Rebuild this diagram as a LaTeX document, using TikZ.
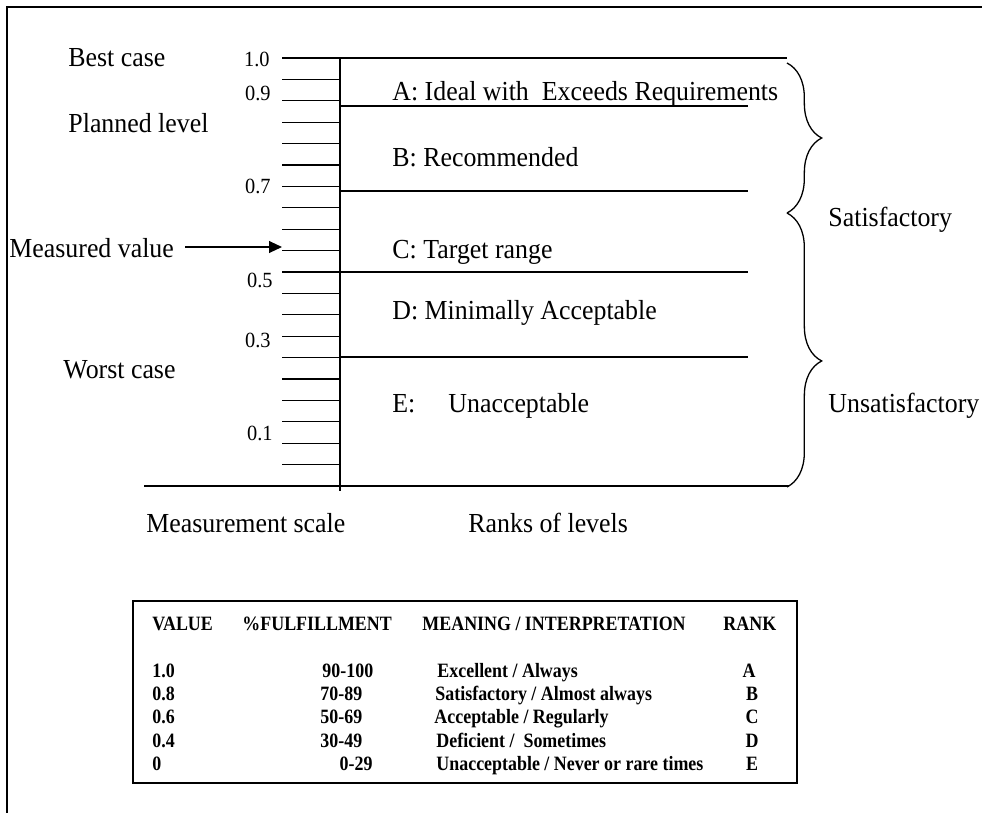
\documentclass[tikz,border=0pt]{standalone}
\usepackage{fontspec}
\setmainfont{Liberation Serif}[FakeStretch=0.94]
\newfontfamily\tabfont{Liberation Serif}[FakeStretch=0.88]
\usetikzlibrary{arrows.meta,decorations.pathreplacing}

\begin{document}
\begin{tikzpicture}[x=0.4615pt, y=-0.4615pt, font=\fontsize{12.7}{14}\selectfont]

    \useasboundingbox (0,0) rectangle (982,813);

    \draw[line width=0.8pt] (982,7) -- (7,7) -- (7,813); %frame

    \begin{scope} %scale
        \begin{scope}[every path/.style={line width=0.6pt}]
            \draw (282,58) -- (787,58);
            \draw (282,79.4) -- (340,79.4);
            \draw (282,100.8) -- (340,100.8);
            \draw (282,122.2) -- (340,122.2);
            \draw (282,143.6) -- (340,143.6);
            \draw (282,165) -- (340,165);
            \draw (282,186.4) -- (340,186.4);
            \draw (282,207.8) -- (340,207.8);
            \draw (282,229.2) -- (340,229.2);
            \draw (282,250.6) -- (340,250.6);
            \draw (282,272) -- (340,272);
            \draw (282,293.4) -- (340,293.4);
            \draw (282,314.8) -- (340,314.8);
            \draw (282,336.2) -- (340,336.2);
            \draw (282,357.6) -- (340,357.6);
            \draw (282,379) -- (340,379);
            \draw (282,400.4) -- (340,400.4);
            \draw (282,421.8) -- (340,421.8);
            \draw (282,443.2) -- (340,443.2);
            \draw (282,464.6) -- (340,464.6);
            \draw (144,486) -- (789,486);
            \draw (340,58) -- (340,491);
            % ranks
            \draw (340,106) -- (748,106);
            \draw (340,191) -- (748,191);
            \draw (340,272) -- (748,272);
            \draw (340,357) -- (748,357);
        \end{scope}
        \begin{scope}[every node/.style={anchor=base east, inner sep=0pt, font=\fontsize{10}{11}\selectfont}]
            \node (v10) at (270,66) {1.0};
            \node (v09) at (271,100) {0.9};
            \node (v07) at (271,193) {0.7};
            \node (v05) at (273,287) {0.5};
            \node (v03) at (271,347) {0.3};
            \node (v01) at (273,440) {0.1};
        \end{scope}
        \begin{scope}[every node/.style={anchor=base west, inner sep=0pt}]
            \node (best) at (68,66) {Best case};
            \node (plan) at (68,132) {Planned level};
            \node (mv) at (9,257) {Measured value};
            \node (worst) at (63,378) {Worst case};
            \node (mscale) at (146,532) {Measurement scale};
            \node (ranks) at (468,532) {Ranks of levels};
        \end{scope}
        \coordinate (mvtip) at (282,247);
        \draw[line width=0.6pt, -{Triangle[length=5.9pt,width=5.4pt]}, shorten <=5pt] (mv.east |- mvtip) -- (mvtip);
    \end{scope}

    \begin{scope} %levels
        \begin{scope}[every node/.style={anchor=base west, inner sep=0pt}]
            \node (ra) at (392,100) {A: Ideal with\ \ Exceeds Requirements};
            \node (rb) at (392,166) {B: Recommended};
            \node (rc) at (392,258) {C: Target range};
            \node (rd) at (392,319) {D: Minimally Acceptable};
            \node (re) at (392,412) {E:};
            \node (reu) at (448,412) {Unacceptable};
            \node (sat) at (828,226) {Satisfactory};
            \node (unsat) at (828,412) {Unsatisfactory};
        \end{scope}
        \coordinate (b1) at (787,63);
        \coordinate (b2) at (787,213);
        \coordinate (b3) at (787,487);
        \draw[line width=0.6pt, decorate, decoration={brace, amplitude=16pt}] (b1) -- (b2);
        \draw[line width=0.6pt, decorate, decoration={brace, amplitude=16pt, aspect=0.54}] (b2) -- (b3);
    \end{scope}

    \begin{scope} %table
        \draw[line width=1.1pt] (133,601) rectangle (797,783);
        \begin{scope}[every node/.style={anchor=base west, inner sep=0pt, font=\tabfont\fontsize{9.4}{10}\selectfont\bfseries}]
            \node (hval) at (152,630) {VALUE};
            \node (hful) at (242,630) {\%FULFILLMENT};
            \node (hmean) at (422,630) {MEANING / INTERPRETATION};
            \node (hrank) at (723,630) {RANK};
            \node (t1v) at (152,677) {1.0};
            \node (t2v) at (152,700) {0.8};
            \node (t3v) at (152,723) {0.6};
            \node (t4v) at (152,747) {0.4};
            \node (t5v) at (152,770) {0};
            \node (t1f) at (322,677) {90-100};
            \node (t2f) at (320,700) {70-89};
            \node (t3f) at (320,723) {50-69};
            \node (t4f) at (320,747) {30-49};
            \node[anchor=base east] (t5f) at (373,770) {0-29};
            \node (t1m) at (437,677) {Excellent / Always};
            \node (t2m) at (435,700) {Satisfactory / Almost always};
            \node (t3m) at (434,723) {Acceptable / Regularly};
            \node (t4m) at (436,747) {Deficient /\ \ Sometimes};
            \node (t5m) at (436,770) {Unacceptable / Never or rare times};
            \node[anchor=base] (t1r) at (749,677) {A};
            \node[anchor=base] (t2r) at (752,700) {B};
            \node[anchor=base] (t3r) at (752,723) {C};
            \node[anchor=base] (t4r) at (752,747) {D};
            \node[anchor=base] (t5r) at (752,770) {E};
        \end{scope}
    \end{scope}

\end{tikzpicture}
\end{document}
